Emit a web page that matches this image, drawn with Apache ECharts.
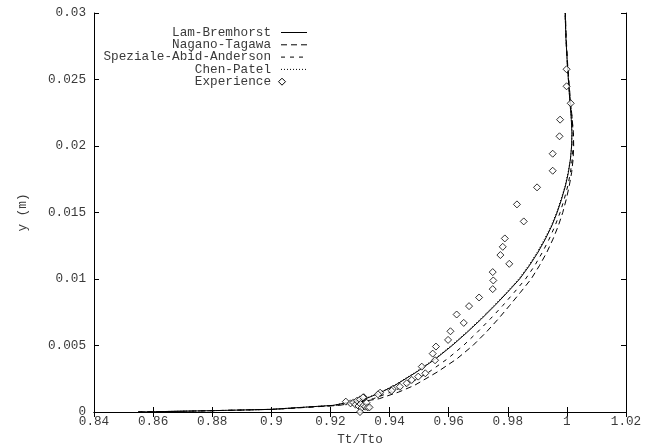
<!DOCTYPE html>
<html>
<head>
<meta charset="utf-8">
<script src="https://cdn.jsdelivr.net/npm/echarts@6/dist/echarts.min.js"></script>
<style>
html,body{margin:0;padding:0;background:#fff;}
#c{width:652px;height:443px;}
</style>
</head>
<body>
<div id="c"></div>
<script>
// y levels (m) shared by the model curves
var yLevels = [0, 0.0001, 0.0002, 0.0005, 0.001, 0.0015, 0.002, 0.003, 0.004, 0.005, 0.006, 0.007, 0.008, 0.009, 0.010, 0.011, 0.012, 0.013, 0.014, 0.015, 0.016, 0.017, 0.018, 0.019, 0.020, 0.021, 0.022, 0.024, 0.026, 0.028, 0.030];
// Tt/Tto at each y level
var lamBremhorst = [0.855, 0.880, 0.900, 0.921, 0.932, 0.9373, 0.9418, 0.9491, 0.9556, 0.9612, 0.9663, 0.9711, 0.9756, 0.9799, 0.9840, 0.9873, 0.9902, 0.9927, 0.9949, 0.9967, 0.9982, 0.9995, 1.0005, 1.0012, 1.0016, 1.0017, 1.0015, 1.0008, 1.0002, 0.9997, 0.9994];
var naganoTagawa = [0.855, 0.8805, 0.901, 0.923, 0.9365, 0.9431, 0.9484, 0.9561, 0.9628, 0.9682, 0.9727, 0.9768, 0.9806, 0.9843, 0.9879, 0.9907, 0.9932, 0.9953, 0.9971, 0.9986, 0.9998, 1.0008, 1.0016, 1.0021, 1.0023, 1.0022, 1.0018, 1.0010, 1.0003, 0.9998, 0.9995];
var spezialeAbidAnderson = [0.855, 0.880, 0.9005, 0.922, 0.9345, 0.9405, 0.9456, 0.9533, 0.9596, 0.9650, 0.9697, 0.9741, 0.9783, 0.9822, 0.9860, 0.9891, 0.9917, 0.9940, 0.9960, 0.9977, 0.9991, 1.0003, 1.0012, 1.0018, 1.0021, 1.0021, 1.0018, 1.0009, 1.0002, 0.9997, 0.9994];
var chenPatel = [0.855, 0.880, 0.900, 0.921, 0.9317, 0.9370, 0.9415, 0.9488, 0.9553, 0.9609, 0.9660, 0.9708, 0.9753, 0.9796, 0.9837, 0.9870, 0.9899, 0.9924, 0.9947, 0.9965, 0.9980, 0.9994, 1.0004, 1.0012, 1.0016, 1.0017, 1.0015, 1.0008, 1.0002, 0.9997, 0.9994];
// experimental points
var expX = [0.9999, 0.9999, 1.0013, 0.9977, 0.9975, 0.9952, 0.9952, 0.9899, 0.9831, 0.9854, 0.9790, 0.9783, 0.9775, 0.9805, 0.9749, 0.9751, 0.9749, 0.9703, 0.9669, 0.9627, 0.9651, 0.9606, 0.9598, 0.9557, 0.9546, 0.9554, 0.9509, 0.9521, 0.9497, 0.9475, 0.9458, 0.9435, 0.9411, 0.9407, 0.9368, 0.9361, 0.9313, 0.9252, 0.9268, 0.9278, 0.9285, 0.9290, 0.9295, 0.9300, 0.9302, 0.9305, 0.9310, 0.9312, 0.9318, 0.9322, 0.9326, 0.9332, 0.9300];
var expY = [0.02577, 0.02449, 0.02321, 0.02198, 0.02073, 0.01942, 0.01814, 0.01689, 0.01561, 0.01433, 0.01305, 0.01242, 0.01180, 0.01114, 0.01052, 0.00989, 0.00924, 0.00861, 0.00796, 0.00733, 0.00670, 0.00607, 0.00542, 0.00492, 0.00439, 0.00389, 0.00341, 0.00291, 0.00266, 0.00241, 0.00216, 0.00190, 0.00173, 0.00160, 0.00145, 0.00133, 0.00111, 0.00078, 0.00065, 0.00072, 0.00055, 0.00085, 0.00045, 0.00095, 0.00060, 0.00030, 0.00110, 0.00050, 0.00040, 0.00070, 0.00035, 0.00035, 0.00000];
var seriesNames = ['Lam-Bremhorst', 'Nagano-Tagawa', 'Speziale-Abid-Anderson', 'Chen-Patel', 'Experience'];

function pairs(xs) { return xs.map(function (x, i) { return [x, yLevels[i]]; }); }
var expData = expX.map(function (x, i) { return [x, expY[i]]; });

var FONT = '"Liberation Mono", "DejaVu Sans Mono", monospace';
var TXT = '#3a3a3a';
var FS = 12.7;

var chart = echarts.init(document.getElementById('c'), null, {renderer: 'canvas'});

var tickStyle = {show: true, inside: true, length: 5, lineStyle: {color: '#000', width: 1}};
var lineAx = {show: true, lineStyle: {color: '#000', width: 1}};

// legend built as graphic elements (right-aligned text, sample on the right)
var legTextX = 271, legSampleX0 = 281, legSampleX1 = 307, legY0 = 32.5, legDy = 12.3;
var dashes = [null, [6, 4], [4, 5], [1, 2]];
var graphics = [];
seriesNames.forEach(function (n, i) {
  var y = legY0 + i * legDy;
  graphics.push({type: 'text', x: legTextX, y: y, style: {text: n, font: FS + 'px ' + FONT, fill: TXT, textAlign: 'right', textVerticalAlign: 'middle'}});
  if (i < 4) {
    graphics.push({type: 'line', shape: {x1: legSampleX0, y1: y, x2: legSampleX1, y2: y}, style: {stroke: '#000', lineWidth: 1, lineDash: dashes[i]}});
  } else {
    graphics.push({type: 'polygon', shape: {points: [[282, y - 3.5], [285.5, y], [282, y + 3.5], [278.5, y]]}, style: {fill: '#fff', stroke: '#000', lineWidth: 1}});
  }
});

function lineSeries(name, xs, type) {
  return {name: name, type: 'line', data: pairs(xs), showSymbol: false, symbol: 'none', smooth: false,
    lineStyle: {color: '#000', width: 1, type: type}, itemStyle: {color: '#000'}, animation: false};
}

chart.setOption({
  animation: false,
  backgroundColor: '#fff',
  grid: {left: 94, right: 26, top: 13, bottom: 31, outerBoundsMode: 'none'},
  xAxis: [{
    type: 'value', min: 0.84, max: 1.02, interval: 0.02, position: 'bottom',
    name: 'Tt/Tto', nameLocation: 'middle', nameGap: 14,
    nameTextStyle: {fontFamily: FONT, fontSize: FS, color: TXT},
    axisLine: lineAx, axisTick: tickStyle, splitLine: {show: false},
    axisLabel: {margin: 3, fontFamily: FONT, fontSize: FS, color: TXT, showMinLabel: true, showMaxLabel: true,
      formatter: function (v) { return String(Math.round(v * 100) / 100); }}
  }, {
    type: 'value', min: 0.84, max: 1.02, interval: 0.02, position: 'top',
    axisLine: lineAx, axisTick: tickStyle, splitLine: {show: false}, axisLabel: {show: false}
  }],
  yAxis: [{
    type: 'value', min: 0, max: 0.03, interval: 0.005, position: 'left',
    name: 'y (m)', nameLocation: 'middle', nameGap: 65,
    nameTextStyle: {fontFamily: FONT, fontSize: FS, color: TXT},
    axisLine: lineAx, axisTick: tickStyle, splitLine: {show: false},
    axisLabel: {margin: 8, fontFamily: FONT, fontSize: FS, color: TXT, showMinLabel: true, showMaxLabel: true,
      formatter: function (v) { return String(Math.round(v * 1000) / 1000); }}
  }, {
    type: 'value', min: 0, max: 0.03, interval: 0.005, position: 'right',
    axisLine: lineAx, axisTick: tickStyle, splitLine: {show: false}, axisLabel: {show: false}
  }],
  graphic: graphics,
  series: [
    lineSeries(seriesNames[0], lamBremhorst, 'solid'),
    lineSeries(seriesNames[1], naganoTagawa, [6, 4]),
    lineSeries(seriesNames[2], spezialeAbidAnderson, [4, 5]),
    lineSeries(seriesNames[3], chenPatel, [1, 2]),
    {name: seriesNames[4], type: 'scatter', data: expData, symbol: 'diamond', symbolSize: 7,
      itemStyle: {color: '#fff', borderColor: '#000', borderWidth: 1}, z: 5, animation: false}
  ]
});
</script>
</body>
</html>
